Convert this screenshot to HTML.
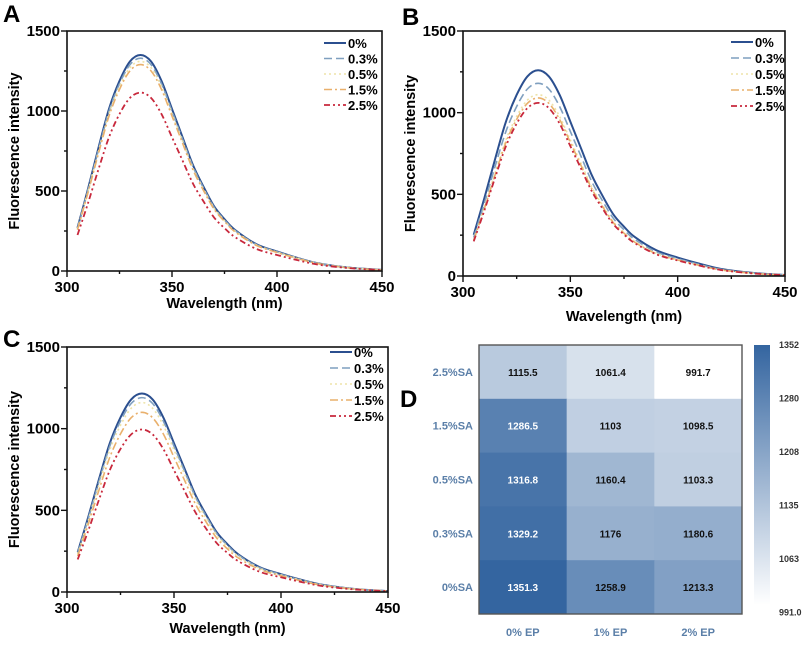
<!DOCTYPE html>
<html><head><meta charset="utf-8"><style>
body{margin:0;background:#fff;width:802px;height:640px;overflow:hidden;font-family:"Liberation Sans",Arial,sans-serif}
svg text{font-family:"Liberation Sans",Arial,sans-serif}
</style></head><body>
<svg id="fig" width="802" height="640"></svg>
<script>
const wl=[305,310,315,320,325,330,335,340,345,350,355,360,365,370,375,380,390,400,410,420,435,450];
const seriesNames=["0%","0.3%","0.5%","1.5%","2.5%"];
const A0=[270,513,770,1013,1188,1310,1350,1310,1188,1013,837,662,527,405,324,257,169,122,81,47,20,7];
const A03=[266,505,758,998,1170,1290,1330,1290,1170,998,825,652,519,399,319,253,166,120,80,47,20,7];
const A05=[262,498,747,983,1153,1271,1310,1271,1153,983,812,642,511,393,314,249,164,118,79,46,20,7];
const A15=[258,490,735,968,1135,1251,1290,1251,1135,968,800,632,503,387,310,245,161,116,77,45,19,6];
const A25=[225,424,636,836,981,1082,1115,1082,981,836,691,546,435,335,268,212,139,100,67,39,17,6];
const B0=[252,479,718,945,1109,1222,1260,1222,1109,945,781,617,491,378,302,239,158,113,76,44,19,6];
const B03=[236,448,673,885,1038,1145,1180,1145,1038,885,732,578,460,354,283,224,148,106,71,41,18,6];
const B05=[222,422,633,833,977,1077,1110,1077,977,833,688,544,433,333,266,211,139,100,67,39,17,6];
const B15=[218,414,621,818,959,1057,1090,1057,959,818,676,534,425,327,262,207,136,98,65,38,16,5];
const B25=[212,403,604,795,933,1028,1060,1028,933,795,657,519,413,318,254,201,133,95,64,37,16,5];
const C0=[243,462,693,911,1069,1179,1215,1179,1069,911,753,595,474,365,292,231,152,109,73,43,18,6];
const C03=[238,452,678,893,1047,1154,1190,1154,1047,893,738,583,464,357,286,226,149,107,71,42,18,6];
const C05=[232,441,661,870,1021,1125,1160,1125,1021,870,719,568,452,348,278,220,145,104,70,41,17,6];
const C15=[220,418,627,825,968,1067,1100,1067,968,825,682,539,429,330,264,209,138,99,66,39,17,6];
const C25=[199,378,567,746,876,965,995,965,876,746,617,488,388,299,239,189,124,90,60,35,15,5];
const xTicks=[300,350,400,450];
const yTicks=[0,500,1000,1500];
const hmRows=["2.5%SA","1.5%SA","0.5%SA","0.3%SA","0%SA"];
const hmCols=["0% EP","1% EP","2% EP"];
const hmVals=[[1115.5,1061.4,991.7],[1286.5,1103,1098.5],[1316.8,1160.4,1103.3],[1329.2,1176,1180.6],[1351.3,1258.9,1213.3]];
const cbTicks=["1352","1280","1208","1135","1063","991.0"];

const NS="http://www.w3.org/2000/svg";
const svg=document.getElementById('fig');
function mk(tag,attrs,parent,text){const e=document.createElementNS(NS,tag);for(const k in attrs)e.setAttribute(k,attrs[k]);if(text!==undefined)e.textContent=text;(parent||svg).appendChild(e);return e;}
const styles=[{c:"#2b4f8f",d:"",w:2},{c:"#7f9fbf",d:"8 4",w:1.6},{c:"#ede3a8",d:"2 3",w:1.6},{c:"#e9b06c",d:"8 3 2 3",w:1.6},{c:"#c8283c",d:"6 3 2 3 2 3",w:1.8}];

function panel(id,L,R,T,B,data,letter,lx,ly,leg,xtY){
  const g=mk('g',{},svg);
  
  
  const xs=v=>L+(v-300)/150*(R-L), ys=v=>B-v/1500*(B-T);
  const lt=mk('text',{x:lx,y:ly,'font-size':24,'font-weight':'bold'},g,letter);
  
  data.forEach((arr,si)=>{
    const pts=wl.map((w,i)=>[xs(w),ys(arr[i])]);
    let d='M'+pts[0][0]+' '+pts[0][1];
    for(let i=0;i<pts.length-1;i++){
      const p0=pts[Math.max(0,i-1)],p1=pts[i],p2=pts[i+1],p3=pts[Math.min(pts.length-1,i+2)];
      d+=` C${p1[0]+(p2[0]-p0[0])/6} ${p1[1]+(p2[1]-p0[1])/6} ${p2[0]-(p3[0]-p1[0])/6} ${p2[1]-(p3[1]-p1[1])/6} ${p2[0]} ${p2[1]}`;
    }
    const s=styles[si];
    const p=mk('path',{d:d,fill:'none',stroke:s.c,'stroke-width':s.w,'stroke-dasharray':s.d},g);
    
    
    const ly2=leg.y+si*leg.dy;
    const ll=mk('line',{x1:leg.x,x2:leg.x+22,y1:ly2,y2:ly2,stroke:s.c,'stroke-width':s.w,'stroke-dasharray':s.d},g);
    
    const lt2=mk('text',{x:leg.x+24,y:ly2+5,'font-size':13,'font-weight':'bold'},g,seriesNames[si]);
    
  });
  const box=mk('rect',{x:L,y:T,width:R-L,height:B-T,fill:'none',stroke:'#111','stroke-width':1.6},g);
  
  for(let v=300;v<=450;v+=25){const x=xs(v);mk('line',{x1:x,x2:x,y1:B,y2:B+(v%50?3:6),stroke:'#111','stroke-width':1.4},g);}
  xTicks.forEach(v=>{const t=mk('text',{x:xs(v),y:B+21,'font-size':15,'font-weight':'bold','text-anchor':'middle'},g,v);});
  for(let v=0;v<=1500;v+=250){const y=ys(v);mk('line',{x1:L,x2:L-(v%500?3:6),y1:y,y2:y,stroke:'#111','stroke-width':1.4},g);}
  yTicks.forEach(v=>{const t=mk('text',{x:L-7,y:ys(v)+5,'font-size':15,'font-weight':'bold','text-anchor':'end'},g,v);});
  const xt=mk('text',{x:(L+R)/2,y:xtY,'font-size':14.5,'font-weight':'bold','text-anchor':'middle'},g,'Wavelength (nm)');
  
  const yc=(T+B)/2, yx=L-48;
  const yt=mk('text',{x:yx,y:yc,'font-size':14.5,'font-weight':'bold','text-anchor':'middle',transform:`rotate(-90 ${yx} ${yc})`},g,'Fluorescence intensity');
  
}
panel('a',67,382,31,271,[A0,A03,A05,A15,A25],'A',3,22,{x:324,y:43,dy:15.5},308);
panel('b',463,785,31,276,[B0,B03,B05,B15,B25],'B',402,25,{x:731,y:42,dy:16},321);
panel('c',67,388,347,592,[C0,C03,C05,C15,C25],'C',3,347,{x:330,y:352,dy:16},633);

// heatmap
const hg=mk('g',{},svg);

const HL=479,HR=742,HT=345,HB=614,vmin=991,vmax=1352;
const col=v=>{const t=Math.max(0,Math.min(1,(v-vmin)/(vmax-vmin)));const c=[52,101,160];return `rgb(${Math.round(255+(c[0]-255)*t)},${Math.round(255+(c[1]-255)*t)},${Math.round(255+(c[2]-255)*t)})`;};
const cw=(HR-HL)/hmCols.length, ch=(HB-HT)/hmRows.length;
hmVals.forEach((row,r)=>row.forEach((v,c)=>{
  const x=HL+c*cw,y=HT+r*ch;
  const cell=mk('rect',{x:x,y:y,width:cw+0.5,height:ch+0.5,fill:col(v)},hg);
  
  const t=mk('text',{x:x+cw/2,y:y+ch/2+4,'font-size':10,'font-weight':'bold','text-anchor':'middle',fill:v>1270?'#fff':'#111'},hg,v);
  
}));
mk('rect',{x:HL,y:HT,width:HR-HL,height:HB-HT,fill:'none',stroke:'#555','stroke-width':1.4},hg);
hmRows.forEach((n,r)=>{const t=mk('text',{x:HL-6,y:HT+r*ch+ch/2+4,'font-size':11,'font-weight':'bold','text-anchor':'end',fill:'#5b7fa8'},hg,n);});
hmCols.forEach((n,c)=>{const t=mk('text',{x:HL+c*cw+cw/2,y:HB+22,'font-size':11,'font-weight':'bold','text-anchor':'middle',fill:'#5b7fa8'},hg,n);});
const defs=mk('defs',{},svg);
const lg=mk('linearGradient',{id:'cbg',x1:0,y1:0,x2:0,y2:1},defs);
mk('stop',{offset:0,'stop-color':col(vmax)},lg);mk('stop',{offset:1,'stop-color':'#fff'},lg);
const cb=mk('rect',{x:754,y:345,width:16,height:260,fill:'url(#cbg)'},hg);

cbTicks.forEach((n,i)=>{const t=mk('text',{x:779,y:348+i*53.5,'font-size':9,'font-weight':'bold',fill:'#333'},hg,n);});
const dl=mk('text',{x:400,y:407,'font-size':24,'font-weight':'bold'},svg,'D');

</script>
</body></html>
